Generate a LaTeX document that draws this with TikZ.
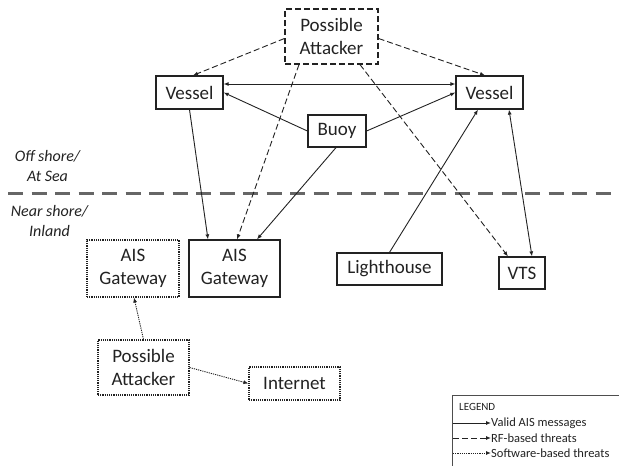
\documentclass[tikz,border=0pt]{standalone}
\usepackage{fontspec}
\setmainfont{Carlito}
\usetikzlibrary{arrows.meta,calc}
\definecolor{ink}{HTML}{222222}
\tikzset{
  box/.style={draw=ink, line width=1.2pt, inner sep=0pt, align=center, text=ink,
    font=\fontsize{19}{23}\selectfont},
  dbox/.style={box, dash pattern=on 6pt off 3pt},
  obox/.style={box, line width=1.1pt, dash pattern=on 1.2pt off 1pt},
  arr/.style={draw=ink, line width=0.9pt, -{Latex[length=5pt,width=4pt]}},
  barr/.style={draw=ink, line width=0.9pt, {Latex[length=5pt,width=4pt]}-{Latex[length=5pt,width=4pt]}},
  rfarr/.style={arr, dash pattern=on 6pt off 3pt},
  swarr/.style={arr, dash pattern=on 1.2pt off 1pt},
  zone/.style={font=\fontsize{16}{20}\selectfont\itshape, text=ink, align=center},
  legtext/.style={anchor=west, text=ink, inner sep=0pt, font=\fontsize{12.5}{15}\selectfont}
}
\begin{document}
\begin{tikzpicture}[x=1pt,y=-1pt]
\useasboundingbox (0,0) rectangle (619,466);
% divider
\coordinate (divL) at (8,193);
\coordinate (divR) at (630,193);
\draw[gray!80!black, line width=3pt, dash pattern=on 15pt off 8.5pt] (divL) -- (divR);
\node[zone] (off) at (47.5,166) {Off shore/\\At Sea};
\node[zone] (near) at (49.5,220.5) {Near shore/\\Inland};
% nodes
\node[dbox, minimum width=93pt, minimum height=55pt] (att1) at (331.5,36.5) {Possible\\Attacker};
\node[box, minimum width=67pt, minimum height=33pt] (v1) at (189.5,92.5) {Vessel};
\node[box, minimum width=67pt, minimum height=33pt] (v2) at (489.5,92.5) {Vessel};
\node[box, minimum width=58pt, minimum height=32pt] (buoy) at (337,131) {Buoy};
\node[obox, minimum width=92pt, minimum height=57pt] (ais1) at (133,268.5) {AIS\\Gateway};
\node[box, minimum width=91pt, minimum height=57pt] (ais2) at (234.5,268.5) {AIS\\Gateway};
\node[box, minimum width=105pt, minimum height=32pt] (light) at (389.5,269) {Lighthouse};
\node[box, minimum width=46pt, minimum height=32pt] (vts) at (522,273) {VTS};
\node[obox, minimum width=91pt, minimum height=55pt] (att2) at (143.5,367.5) {Possible\\Attacker};
\node[obox, minimum width=91pt, minimum height=33pt] (inet) at (294.5,383.5) {Internet};
% valid messages
\draw[barr] ([yshift=8.5pt]v1.east) -- ([yshift=8.5pt]v2.west);
\draw[arr] (buoy.west) -- (v1.east);
\draw[arr] (buoy.east) -- (v2.west);
\draw[arr] (v1.south) -- ([xshift=-26.5pt]ais2.north);
\draw[arr] ([xshift=-1pt]buoy.south) -- ([xshift=22.5pt]ais2.north);
\draw[arr] (light.north) -- ([xshift=-11.5pt]v2.south);
\draw[barr] ([xshift=19.5pt]v2.south) -- ([xshift=10pt]vts.north);
% RF threats
\draw[rfarr] ([yshift=-2pt]att1.west) -- ([xshift=3.5pt]v1.north);
\draw[rfarr] ([yshift=-2pt]att1.east) -- ([xshift=-4.5pt]v2.north);
\draw[rfarr] ([xshift=-32.5pt]att1.south) -- ([xshift=2.5pt]ais2.north);
\draw[rfarr] ([xshift=28.5pt]att1.south) -- ([xshift=-14pt]vts.north);
% software threats
\draw[swarr] (att2.north) -- ([xshift=1pt]ais1.south);
\draw[swarr] (att2.east) -- (inet.west);
% legend
\node[draw=ink!80, line width=0.9pt, minimum width=180pt, minimum height=85pt, anchor=north west, inner sep=0pt] (leg) at (452,395) {};
\node[anchor=west, text=ink, inner sep=0pt, font=\fontsize{11}{13}\selectfont] (legt) at (459,407) {LEGEND};
\node[legtext] (l1) at (491,423) {Valid AIS messages};
\node[legtext] (l2) at (491,438) {RF-based threats};
\node[legtext] (l3) at (491,453) {Software-based threats};
\coordinate (s1) at (453,423);
\coordinate (s2) at (453,438);
\coordinate (s3) at (453,453);
\draw[arr] (s1) -- (l1.west);
\draw[rfarr] (s2) -- (l2.west);
\draw[swarr] (s3) -- (l3.west);
\end{tikzpicture}
\end{document}
